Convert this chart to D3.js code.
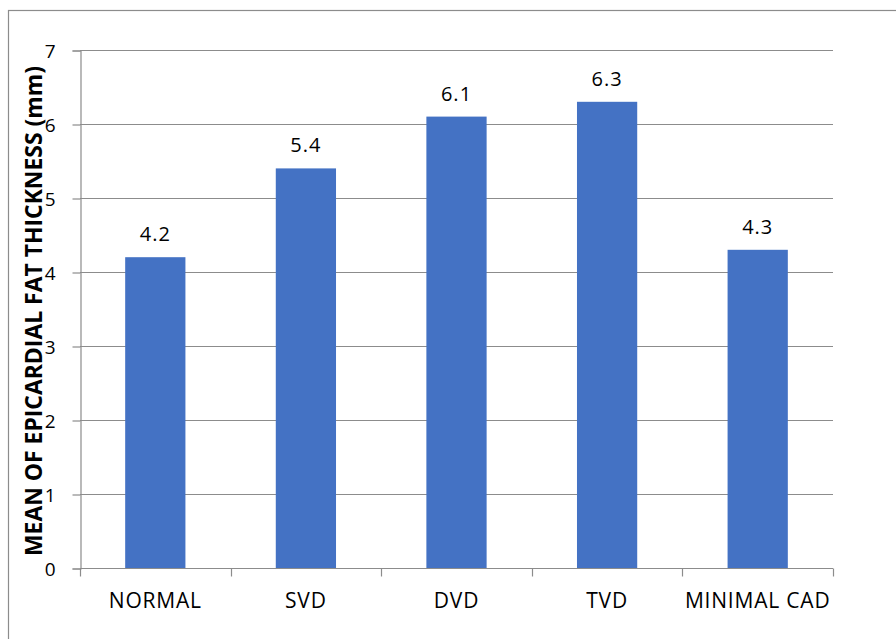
<!DOCTYPE html>
<html>
<head>
<meta charset="utf-8">
<script src="https://cdn.jsdelivr.net/npm/d3@7"></script>
<style>
  body { margin: 0; background: #fff; }
  text { font-family: "Open Sans", "Noto Sans", sans-serif; fill: #000; }
  .tickLabel { font-size: 19px; }
  .catLabel { font-size: 21px; letter-spacing: 0.8px; }
  .valueLabel { font-size: 20px; letter-spacing: 1px; }
  .yTitle { font-size: 23px; font-weight: bold; }
</style>
</head>
<body>
<div id="chart"></div>
<script>
const categories = ["NORMAL", "SVD", "DVD", "TVD", "MINIMAL CAD"];
const values = [4.2, 5.4, 6.1, 6.3, 4.3];
const yTicks = [0, 1, 2, 3, 4, 5, 6, 7];
const yTitle = "MEAN OF EPICARDIAL FAT THICKNESS (mm)";

const width = 896;
const height = 639;
const margin = { top: 50, right: 63, bottom: 71, left: 80 };

const svg = d3.select("#chart").append("svg")
   .attr("width", width)
   .attr("height", height);

// outer frame (runs off the right and bottom edge)
svg.append("rect")
   .attr("x", 8.5)
   .attr("y", 10.5)
   .attr("width", 900)
   .attr("height", 700)
   .attr("fill", "none")
   .attr("stroke", "#8c8c8c")
   .attr("stroke-width", 1.2);

const x = d3.scaleBand()
   .domain(categories)
   .range([margin.left, width - margin.right])
   .padding(0);

const y = d3.scaleLinear()
   .domain([0, 7])
   .range([height - margin.bottom, margin.top]);

// gridlines
svg.append("g")
   .selectAll("line")
   .data(yTicks.filter(d => d > 0))
   .enter()
   .append("line")
   .attr("x1", margin.left)
   .attr("x2", width - margin.right)
   .attr("y1", d => y(d) + 0.5)
   .attr("y2", d => y(d) + 0.5)
   .attr("stroke", "#8c8c8c")
   .attr("stroke-width", 1.2);

// y axis
const yAxis = d3.axisLeft(y)
   .tickValues(yTicks)
   .tickSize(8)
   .tickPadding(17)
   .tickFormat(d3.format("d"));

const gy = svg.append("g")
   .attr("transform", `translate(${margin.left + 0.5},0.5)`)
   .call(yAxis);
gy.attr("font-family", null).attr("font-size", null);
gy.select(".domain").attr("stroke", "#8c8c8c").attr("stroke-width", 1.2);
gy.selectAll(".tick line").attr("stroke", "#8c8c8c").attr("stroke-width", 1.2);
gy.selectAll(".tick text")
   .attr("class", "tickLabel")
   .attr("fill", "#000")
   .attr("dy", "0.36em");

// bars
const barW = x.bandwidth() * 0.4;
svg.selectAll("rect.bar")
   .data(categories)
   .enter()
   .append("rect")
   .attr("class", "bar")
   .attr("x", d => x(d) + (x.bandwidth() - barW) / 2)
   .attr("width", barW)
   .attr("y", (d, i) => y(values[i]))
   .attr("height", (d, i) => y(0) - y(values[i]))
   .attr("fill", "#4472C4");

// x axis line and ticks at category boundaries
const xBase = y(0) + 0.5;
svg.append("line")
   .attr("x1", margin.left)
   .attr("x2", width - margin.right)
   .attr("y1", xBase)
   .attr("y2", xBase)
   .attr("stroke", "#8c8c8c")
   .attr("stroke-width", 1.2);

const bounds = categories.map(d => x(d)).concat([x.range()[1]]);
svg.selectAll("line.xtick")
   .data(bounds)
   .enter()
   .append("line")
   .attr("class", "xtick")
   .attr("x1", d => Math.round(d) + 0.5)
   .attr("x2", d => Math.round(d) + 0.5)
   .attr("y1", xBase)
   .attr("y2", xBase + 8)
   .attr("stroke", "#8c8c8c")
   .attr("stroke-width", 1.2);

svg.selectAll("text.catLabel")
   .data(categories)
   .enter()
   .append("text")
   .attr("class", "catLabel")
   .attr("x", d => x(d) + x.bandwidth() / 2)
   .attr("y", y(0) + 40)
   .style("text-anchor", "middle")
   .text(d => d);

// value labels
svg.selectAll("text.valueLabel")
   .data(categories)
   .enter()
   .append("text")
   .attr("class", "valueLabel")
   .attr("x", d => x(d) + x.bandwidth() / 2)
   .attr("y", (d, i) => y(values[i]) - 16)
   .style("text-anchor", "middle")
   .text((d, i) => values[i].toFixed(1));

// y title
svg.append("text")
   .attr("class", "yTitle")
   .attr("transform", `translate(42, ${(margin.top + height - margin.bottom) / 2 + 2}) rotate(-90)`)
   .style("text-anchor", "middle")
   .attr("textLength", 490)
   .attr("lengthAdjust", "spacingAndGlyphs")
   .text(yTitle);
</script>
</body>
</html>
